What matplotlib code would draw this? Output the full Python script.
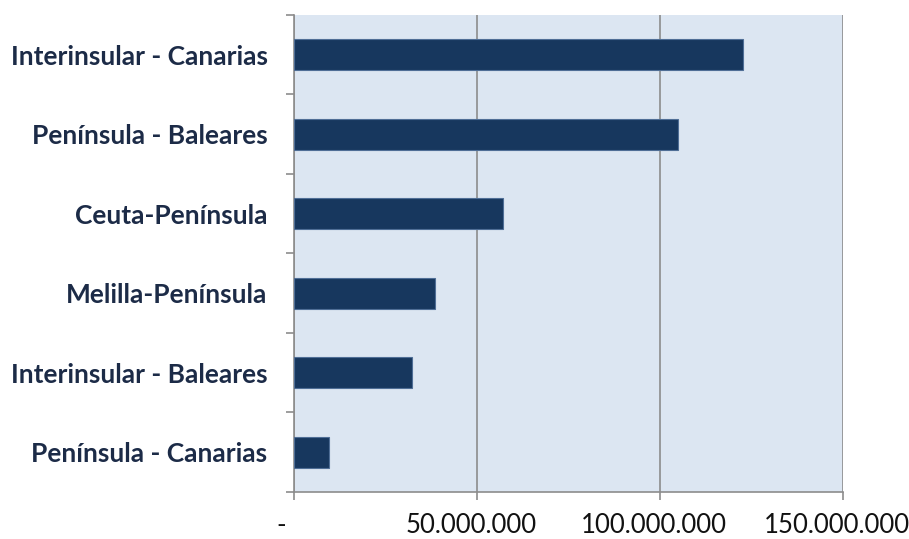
import matplotlib.pyplot as plt
from matplotlib.ticker import FuncFormatter
from matplotlib.transforms import ScaledTranslation

rutas = [
    "Península - Canarias",
    "Interinsular - Baleares",
    "Melilla-Península",
    "Ceuta-Península",
    "Península - Baleares",
    "Interinsular - Canarias",
]
valores = [9_600_000, 32_300_000, 38_400_000, 57_200_000, 104_800_000, 122_800_000]
ticks_x = [0, 50_000_000, 100_000_000, 150_000_000]

FUENTE = ["Lato", "DejaVu Sans"]


def miles(x, pos):
    # formato contable: "-" para cero
    if x == 0:
        return "-"
    return f"{int(x):,}".replace(",", ".")


def main():
    fig = plt.figure(figsize=(9.09, 5.39), dpi=100)
    ax = fig.add_axes([0.3234, 0.0872, 0.6040, 0.8850])
    ax.set_facecolor("#DCE6F2")

    y = range(len(rutas))
    ax.barh(y, valores, height=0.39, color="#17375E", edgecolor="#4F6E96",
            linewidth=0.8, zorder=3)

    ax.set_xlim(0, 150_000_000)
    ax.set_ylim(-0.5, len(rutas) - 0.5)
    ax.set_xticks(ticks_x)
    ax.xaxis.set_major_formatter(FuncFormatter(miles))
    ax.grid(axis="x", color="#8C8C8C", linewidth=1.2, zorder=1)

    ax.set_yticks([i - 0.5 for i in range(len(rutas) + 1)], minor=False)
    ax.set_yticklabels([])
    ax.set_yticks(list(y), minor=True)
    ax.set_yticklabels(rutas, minor=True, fontsize=19, fontweight="bold",
                       family=FUENTE, color="#1C2B47")
    ax.tick_params(axis="y", which="minor", length=0, pad=19)
    ax.tick_params(axis="y", which="major", length=5.8, color="#8C8C8C", width=1.2)
    ax.tick_params(axis="x", length=5.8, color="#8C8C8C", width=1.2, pad=9,
                   labelsize=18.5, labelcolor="#111111")

    # relleno a la derecha del formato contable de Excel
    for i, lab in enumerate(ax.get_xticklabels()):
        lab.set_family(FUENTE)
        dx = -0.13 if i == 0 else -0.06
        lab.set_transform(lab.get_transform()
                          + ScaledTranslation(dx, 0, fig.dpi_scale_trans))

    for side in ["top", "right"]:
        ax.spines[side].set_visible(False)
    for side in ["left", "bottom"]:
        ax.spines[side].set_color("#8C8C8C")
        ax.spines[side].set_linewidth(1.2)

    fig.savefig("out.png", dpi=100)


if __name__ == "__main__":
    main()
